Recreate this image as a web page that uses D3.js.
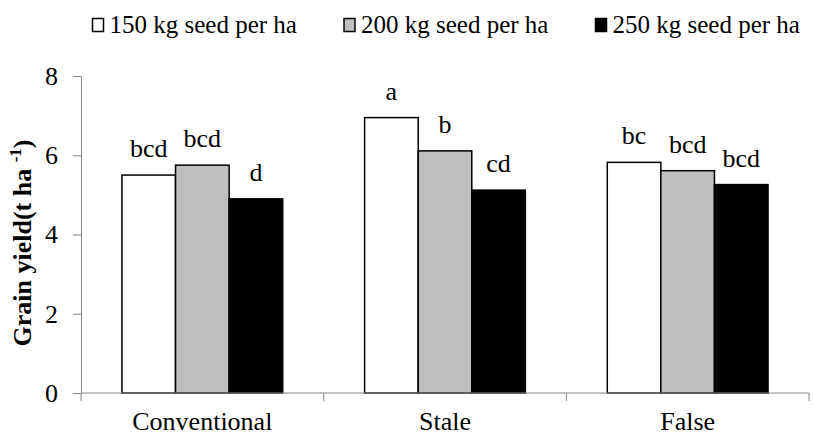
<!DOCTYPE html>
<html>
<head>
<meta charset="utf-8">
<script src="https://cdn.jsdelivr.net/npm/d3@7"></script>
<style>
  body { margin: 0; font-family: Tinos, "Times New Roman", "Liberation Serif", serif; }
  svg, svg text { font-family: Tinos, "Times New Roman", "Liberation Serif", serif; }
</style>
</head>
<body>
<svg id="s" width="814" height="435" style="font-family: Tinos, 'Times New Roman', 'Liberation Serif', serif"></svg>
<script>
const categories = ["Conventional", "Stale", "False"];
const seriesNames = ["150 kg seed per ha", "200 kg seed per ha", "250 kg seed per ha"];
const seriesColors = ["#ffffff", "#bfbfbf", "#000000"];
const values150 = [5.50, 6.95, 5.82];
const values200 = [5.75, 6.11, 5.61];
const values250 = [4.90, 5.12, 5.26];
const letters150 = ["bcd", "a", "bc"];
const letters200 = ["bcd", "b", "bcd"];
const letters250 = ["d", "cd", "bcd"];
const yTicks = [0, 2, 4, 6, 8];

const seriesValues = [values150, values200, values250];
const seriesLetters = [letters150, letters200, letters250];

const FONT = "Tinos, 'Times New Roman', 'Liberation Serif', serif";
function serif(sel) { return sel.style("font-family", FONT).attr("font-family", FONT); }

const svg = d3.select("#s");
const plotLeft = 81, plotRight = 809, plotTop = 76, plotBottom = 393;
const axisColor = "#868686";

const x0 = d3.scaleBand().domain(categories).range([plotLeft, plotRight]).padding(0);
const x1 = d3.scaleBand().domain(d3.range(3)).range([0, x0.bandwidth()])
  .paddingInner(0).paddingOuter(0.764);
const y = d3.scaleLinear().domain([0, 8]).range([plotBottom, plotTop]);

// bars
categories.forEach((c, ci) => {
  const g = svg.append("g").attr("transform", `translate(${x0(c)},0)`);
  seriesValues.forEach((vals, si) => {
    const v = vals[ci];
    g.append("rect")
      .attr("x", x1(si))
      .attr("y", y(v))
      .attr("width", x1.bandwidth())
      .attr("height", y(0) - y(v))
      .attr("fill", seriesColors[si])
      .attr("stroke", "#000")
      .attr("stroke-width", 1.5);
    g.append("text")
      .attr("x", x1(si) + x1.bandwidth() / 2)
      .attr("y", y(v) - 18)
      .attr("text-anchor", "middle")
      .attr("font-size", 26)
      .attr("fill", "#000")
      .call(serif)
      .text(seriesLetters[si][ci]);
  });
});

// y axis
const yAxis = d3.axisLeft(y).tickValues(yTicks).tickSize(8).tickPadding(15).tickSizeOuter(0);
const ya = svg.append("g").attr("transform", `translate(${plotLeft},0)`).call(yAxis)
  .attr("font-family", FONT);
ya.select(".domain").attr("stroke", axisColor);
ya.selectAll(".tick line").attr("stroke", axisColor);
ya.selectAll(".tick text").attr("font-size", 26).attr("fill", "#000").call(serif);

// x axis line and boundary ticks
const xa = svg.append("g");
xa.append("line").attr("x1", plotLeft).attr("x2", plotRight).attr("y1", y(0)).attr("y2", y(0))
  .attr("stroke", axisColor);
const boundaries = categories.map(c => x0(c)).concat([x0(categories[categories.length - 1]) + x0.bandwidth()]);
xa.selectAll("line.bt").data(boundaries).enter().append("line")
  .attr("class", "bt")
  .attr("x1", d => d).attr("x2", d => d)
  .attr("y1", y(0)).attr("y2", y(0) + 8)
  .attr("stroke", axisColor);
xa.selectAll("text").data(categories).enter().append("text")
  .attr("x", d => x0(d) + x0.bandwidth() / 2)
  .attr("y", 430)
  .attr("text-anchor", "middle")
  .attr("font-size", 26)
  .attr("fill", "#000")
  .call(serif)
  .text(d => d);

// y title
const title = svg.append("text")
  .attr("transform", `translate(31,${243}) rotate(-90)`)
  .attr("text-anchor", "middle")
  .attr("font-size", 26)
  .attr("font-weight", "bold")
  .attr("fill", "#000")
  .call(serif);
title.append("tspan").text("Grain yield(t ha ");
title.append("tspan").attr("font-size", 17).attr("dy", -10).text("-1");
title.append("tspan").attr("dy", 10).text(")");

// legend
const legendX = [92.5, 344, 595.5];
const lg = svg.append("g");
seriesNames.forEach((name, i) => {
  lg.append("rect")
    .attr("x", legendX[i]).attr("y", 18.5)
    .attr("width", 11).attr("height", 13)
    .attr("fill", seriesColors[i])
    .attr("stroke", "#000").attr("stroke-width", 1.5);
  lg.append("text")
    .attr("x", legendX[i] + 17)
    .attr("y", 33)
    .attr("font-size", 25)
    .attr("fill", "#000")
    .call(serif)
    .text(name);
});
</script>
</body>
</html>
